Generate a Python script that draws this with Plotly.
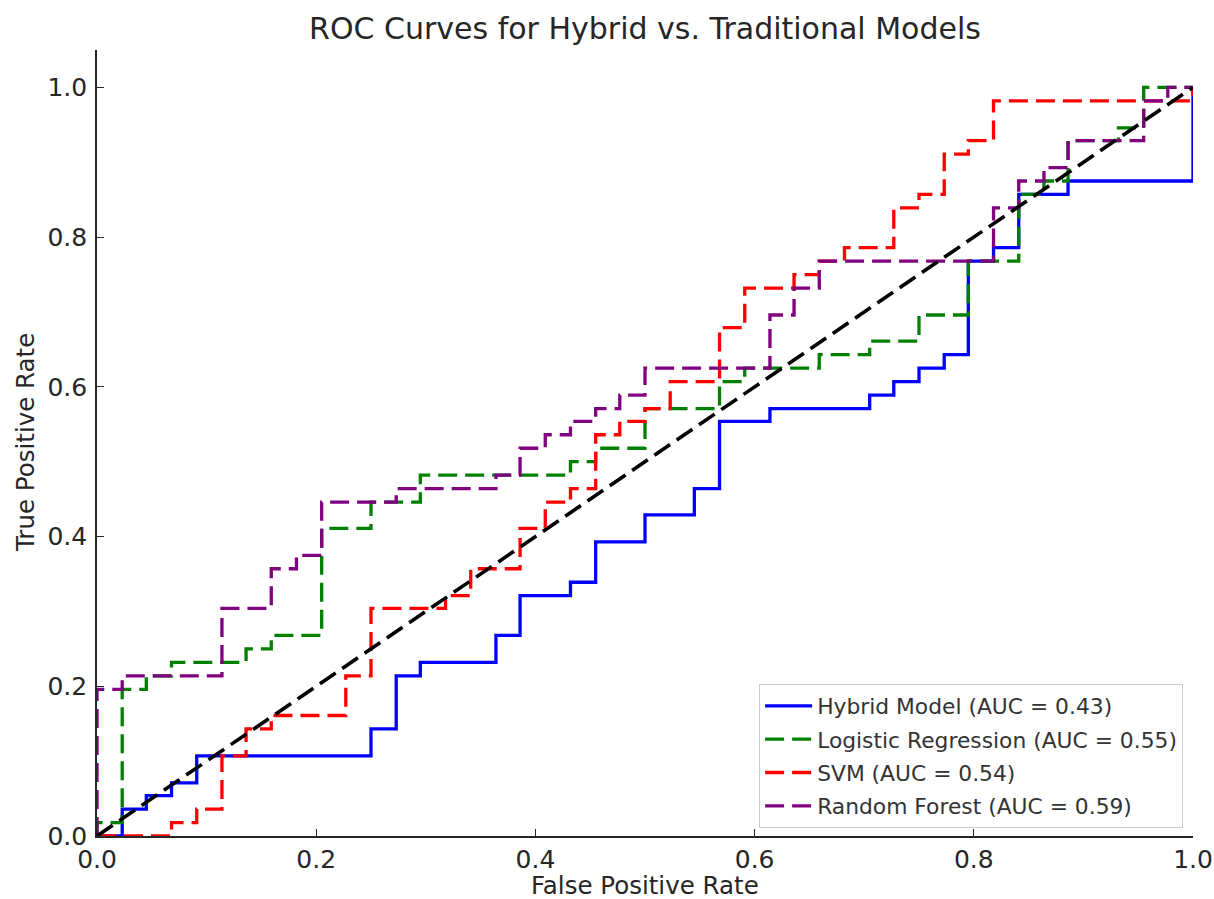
import plotly.graph_objects as go

# ---- data (step-corner points of each ROC curve) ----
hybrid_fpr = [0.0, 0.023, 0.045, 0.068, 0.091, 0.25, 0.273, 0.295, 0.364, 0.386, 0.432, 0.455,
              0.5, 0.545, 0.568, 0.614, 0.705, 0.727, 0.75, 0.773, 0.795, 0.818, 0.841, 0.886, 1.0]
hybrid_tpr = [0.0, 0.036, 0.054, 0.071, 0.107, 0.143, 0.214, 0.232, 0.268, 0.321, 0.339, 0.393,
              0.429, 0.464, 0.554, 0.571, 0.589, 0.607, 0.625, 0.643, 0.768, 0.786, 0.857, 0.875, 1.0]

logreg_fpr = [0.0, 0.0, 0.023, 0.045, 0.068, 0.136, 0.159, 0.205, 0.25, 0.295, 0.432, 0.455, 0.5,
              0.568, 0.591, 0.659, 0.705, 0.75, 0.795, 0.841, 0.864, 0.886, 0.932, 0.955, 1.0]
logreg_tpr = [0.0, 0.018, 0.196, 0.214, 0.232, 0.25, 0.268, 0.411, 0.446, 0.482, 0.5, 0.518, 0.571,
              0.607, 0.625, 0.643, 0.661, 0.696, 0.768, 0.857, 0.875, 0.929, 0.946, 1.0, 1.0]

svm_fpr = [0.0, 0.068, 0.091, 0.114, 0.136, 0.159, 0.227, 0.25, 0.318, 0.341, 0.386, 0.409, 0.432,
           0.455, 0.477, 0.5, 0.523, 0.568, 0.591, 0.636, 0.659, 0.682, 0.727, 0.75, 0.773, 0.795,
           0.818, 1.0]
svm_tpr = [0.0, 0.018, 0.036, 0.107, 0.143, 0.161, 0.214, 0.304, 0.321, 0.357, 0.411, 0.446, 0.464,
           0.536, 0.554, 0.571, 0.607, 0.679, 0.732, 0.75, 0.768, 0.786, 0.839, 0.857, 0.911, 0.929,
           0.982, 1.0]

rf_fpr = [0.0, 0.0, 0.023, 0.114, 0.159, 0.182, 0.205, 0.273, 0.364, 0.386, 0.409, 0.432, 0.455,
          0.477, 0.5, 0.614, 0.636, 0.659, 0.818, 0.841, 0.864, 0.886, 0.955, 0.977, 1.0]
rf_tpr = [0.0, 0.196, 0.214, 0.304, 0.357, 0.375, 0.446, 0.464, 0.482, 0.518, 0.536, 0.554, 0.571,
          0.589, 0.625, 0.696, 0.732, 0.768, 0.839, 0.875, 0.893, 0.929, 0.982, 1.0, 1.0]

diag_x = [0.0, 1.0]
diag_y = [0.0, 1.0]

names = ["Hybrid Model (AUC = 0.43)", "Logistic Regression (AUC = 0.55)",
         "SVM (AUC = 0.54)", "Random Forest (AUC = 0.59)"]
xt_vals = [0.0, 0.2, 0.4, 0.6, 0.8, 1.0]
xt_text = ["0.0", "0.2", "0.4", "0.6", "0.8", "1.0"]

FONT = "DejaVu Sans"
TXT = "#262626"
DASH = "19px,8px"

W, H = 1214, 899
ML, MR, MT, MB = 97, 21, 50, 63
PW, PH = W - ML - MR, H - MT - MB

fig = go.Figure()
series = [
    (hybrid_fpr, hybrid_tpr, names[0], "#0000ff", "solid"),
    (logreg_fpr, logreg_tpr, names[1], "#008000", DASH),
    (svm_fpr, svm_tpr, names[2], "#ff0000", DASH),
    (rf_fpr, rf_tpr, names[3], "#800080", DASH),
]
for i, (xs, ys, nm, col, dash) in enumerate(series):
    fig.add_trace(go.Scatter(x=xs, y=ys, mode="lines", name=nm, legendgroup=f"g{i}",
                             line=dict(color=col, width=3.3, dash=dash, shape="hv")))
fig.add_trace(go.Scatter(x=diag_x, y=diag_y, mode="lines", showlegend=False,
                         line=dict(color="black", width=3.6, dash=DASH)))

axis_common = dict(showgrid=False, zeroline=False, showline=True, linecolor=TXT, linewidth=1.6,
                   ticks="inside", ticklen=7, tickwidth=1.4, tickcolor=TXT, automargin=False,
                   tickfont=dict(family=FONT, size=25, color=TXT), mirror=False)

fig.update_layout(
    width=W, height=H,
    margin=dict(l=ML, r=MR, t=MT, b=MB, autoexpand=False),
    paper_bgcolor="white", plot_bgcolor="white",
    font=dict(family=FONT, color=TXT),
    title=dict(text="ROC Curves for Hybrid vs. Traditional Models",
               font=dict(family=FONT, size=30, color=TXT),
               x=0.5, xref="paper", xanchor="center",
               y=1 - 28 / H, yref="container", yanchor="middle"),
    xaxis=dict(range=[0, 1], tickvals=xt_vals, ticktext=xt_text,
               ticklabelstandoff=0, **axis_common),
    yaxis=dict(range=[0, 1.05], tickvals=xt_vals, ticktext=xt_text,
               ticklabelstandoff=3, **axis_common),
    legend=dict(x=0.991, y=0.01, xanchor="right", yanchor="bottom", tracegroupgap=2,
                bgcolor="rgba(255,255,255,0.8)", bordercolor="#cccccc", borderwidth=1,
                font=dict(family=FONT, size=21.8, color="#333333"), itemwidth=47),
    annotations=[
        dict(text="False Positive Rate", xref="paper", yref="paper", x=0.5, y=-49 / PH,
             xanchor="center", yanchor="middle", showarrow=False,
             font=dict(family=FONT, size=24.5, color=TXT)),
        dict(text="True Positive Rate", xref="paper", yref="paper", x=-72 / PW, y=0.5,
             xanchor="center", yanchor="middle", showarrow=False, textangle=-90,
             font=dict(family=FONT, size=24.5, color=TXT)),
    ],
)

# remove the default 8px page margin so the 1214x899 figure fills the window exactly
fig.write_html("out.html", config={"displayModeBar": False},
               post_script="document.body.style.margin='0';document.body.style.overflow='hidden';")
